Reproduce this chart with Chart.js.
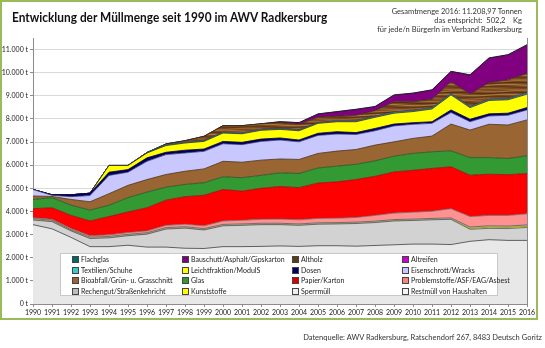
<!DOCTYPE html>
<html><head><meta charset="utf-8">
<script src="https://cdn.jsdelivr.net/npm/chart.js@4.4.1/dist/chart.umd.min.js"></script>
<style>
html,body{margin:0;padding:0;background:#fff;width:545px;height:348px;overflow:hidden;font-family:Lato,'Open Sans',sans-serif;}
#frame{position:absolute;left:0;top:0;width:534px;height:316px;border:2px solid #9bbb59;}
#c{position:absolute;left:0;top:0;}
#title{position:absolute;left:12px;top:9px;font-size:13.5px;font-weight:bold;color:#111;white-space:nowrap;transform:scaleX(0.88);transform-origin:0 0;}
#info{position:absolute;right:23px;top:7px;font-size:7.5px;line-height:9px;text-align:right;color:#333;white-space:pre;}
#source{position:absolute;right:3px;top:333px;font-size:7.5px;color:#333;white-space:nowrap;}
#legend{position:absolute;left:60px;top:253px;width:436px;height:41px;background:#fff;border:1px solid #c8c8c8;}
.item{position:absolute;font-size:7px;line-height:8px;color:#222;white-space:nowrap;}
.sw{display:inline-block;width:5px;height:5px;border:1px solid #444;margin-right:2px;vertical-align:-1px;}
</style></head>
<body>
<div id="frame"></div>
<canvas id="c" width="545" height="348"></canvas>
<div id="title">Entwicklung der Müllmenge seit 1990 im AWV Radkersburg</div>
<div id="info">Gesamtmenge 2016: 11.208,97 Tonnen
das entspricht:  502,2    Kg
für jede/n BürgerIn im Verband Radkersburg</div>
<div id="legend"></div>
<div id="source">Datenquelle: AWV Radkersburg, Ratschendorf 267, 8483 Deutsch Goritz</div>
<script>
const years = ["1990","1991","1992","1993","1994","1995","1996","1997","1998","1999","2000","2001","2002","2003","2004","2005","2006","2007","2008","2009","2010","2011","2012","2013","2014","2015","2016"];
const yTicks = [0,1000,2000,3000,4000,5000,6000,7000,8000,9000,10000,11000];

const restmuell     = [3430,3250,2880,2480,2480,2540,2460,2460,2410,2400,2480,2480,2490,2510,2490,2520,2520,2500,2530,2560,2590,2590,2570,2710,2780,2750,2750];
const sperrmuell    = [200,310,280,350,380,410,560,780,870,800,900,920,940,920,910,930,940,980,990,1030,1020,1050,1090,520,490,510,560];
const kunststoffe   = [0,0,0,0,0,0,0,0,0,0,0,0,0,0,0,0,0,0,0,0,0,0,0,40,50,50,50];
const rechengut     = [60,60,50,60,60,60,60,60,60,60,60,60,60,60,60,60,60,60,60,60,60,60,60,60,60,60,60];
const problemstoffe = [40,40,50,60,70,80,80,100,110,120,150,160,170,180,180,190,190,200,250,280,300,310,400,450,450,460,480];
const papier        = [390,500,570,640,790,890,1000,1090,1190,1320,1360,1260,1340,1410,1390,1530,1570,1640,1690,1780,1810,1850,1810,1790,1780,1760,1740];
const glas          = [400,440,440,470,490,620,680,560,530,540,550,580,560,590,610,650,680,660,670,680,730,720,690,760,720,700,770];
const bioabfall     = [150,50,250,360,500,530,540,550,570,600,670,670,660,600,610,630,650,640,680,620,650,680,1160,1190,1440,1450,1550];
const eisenschrott  = [280,50,120,270,790,570,790,860,790,760,760,760,810,820,760,780,740,650,620,690,610,550,500,360,360,420,430];
const dosen         = [0,20,80,100,140,110,150,100,120,100,100,100,100,90,80,90,100,80,100,80,70,70,110,110,90,90,100];
const leichtfraktion= [0,0,0,0,290,180,210,290,310,330,360,370,380,370,400,430,430,470,480,470,480,550,650,500,580,580,580];
const textilien     = [0,0,0,0,0,0,20,30,30,30,30,30,30,30,30,30,30,30,40,40,40,40,40,40,40,40,50];
const altreifen     = [0,0,0,0,0,0,0,0,10,10,10,10,10,10,10,10,10,10,10,10,10,10,10,10,10,10,10];
const altholz       = [0,0,0,0,0,0,0,40,60,180,280,310,240,260,240,220,200,240,240,440,380,370,520,540,720,810,840];
const bauschutt     = [0,0,0,0,0,0,0,0,0,0,0,0,0,30,70,140,190,250,170,290,360,400,440,820,1060,1080,1230];
const flachglas     = [0,0,0,0,0,0,0,0,0,0,0,0,0,0,0,10,10,10,10,10,10,10,10,10,10,10,10];

function woodPattern(){
  const p = document.createElement('canvas'); p.width = 60; p.height = 10;
  const g = p.getContext('2d');
  g.fillStyle = '#7a4a20'; g.fillRect(0,0,60,10);
  const rows = [[1,'#a8733a'],[3,'#4e2c10'],[5,'#b5824a'],[7,'#5a3414'],[9,'#9a6632']];
  rows.forEach(([y,c],k)=>{
    g.strokeStyle = c; g.lineWidth = 0.9; g.beginPath();
    for(let x=0;x<=60;x+=2){ const yy = y + 0.7*Math.sin((x/60)*Math.PI*2 + k); x===0?g.moveTo(x,yy):g.lineTo(x,yy); }
    g.stroke();
  });
  return document.getElementById('c').getContext('2d').createPattern(p,'repeat');
}

const series = [
  {label:'Restmüll von Haushalten', data:restmuell, color:'#e8e8e8', border:'#3c3c3c', sw:'#f4f4f4'},
  {label:'Sperrmüll', data:sperrmuell, color:'#d2d2d2', border:'#555', sw:'#eeeeee'},
  {label:'Kunststoffe', data:kunststoffe, color:'#ffff00', border:'#8c8c00', sw:'#ffff00'},
  {label:'Rechengut/Straßenkehricht', data:rechengut, color:'#bdbdbd', border:'#555', sw:'#bdbdbd'},
  {label:'Problemstoffe/ASF/EAG/Asbest', data:problemstoffe, color:'#ff9191', border:'#666', sw:'#ff8080'},
  {label:'Papier/Karton', data:papier, color:'#ff0000', border:'#8a1010', sw:'#dd0000'},
  {label:'Glas', data:glas, color:'#339933', border:'#2a4a2a', sw:'#339933'},
  {label:'Bioabfall/Grün- u. Grasschnitt', data:bioabfall, color:'#996633', border:'#4a3018', sw:'#996633'},
  {label:'Eisenschrott/Wracks', data:eisenschrott, color:'#c8c8ff', border:'#333366', sw:'#c8c8ff'},
  {label:'Dosen', data:dosen, color:'#000066', border:'#000044', sw:'#000066'},
  {label:'Leichtfraktion/ModulS', data:leichtfraktion, color:'#ffff00', border:'#222', sw:'#ffff00'},
  {label:'Textilien/Schuhe', data:textilien, color:'#33cccc', border:'#1a6666', sw:'#33cccc'},
  {label:'Altreifen', data:altreifen, color:'#cc00cc', border:'#660066', sw:'#cc00cc'},
  {label:'Altholz', data:altholz, color:null, border:'#3a2410', sw:'#5c3a1a'},
  {label:'Bauschutt/Asphalt/Gipskarton', data:bauschutt, color:'#800080', border:'#2a0a2a', sw:'#800080'},
  {label:'Flachglas', data:flachglas, color:'#006666', border:'#003333', sw:'#006666'}
];

const wood = woodPattern();
const datasets = series.map((s,i)=>({
  label:s.label, data:s.data,
  backgroundColor: s.color || wood,
  borderColor: s.border, borderWidth: 0.8,
  fill: i===0 ? 'origin' : '-1',
  pointRadius:0, pointHoverRadius:0, tension:0
}));

const leg = document.getElementById('legend');
series.slice().reverse().forEach((s,k)=>{
  const col = k%4, row = Math.floor(k/4);
  const d = document.createElement('div'); d.className='item';
  d.style.left = (11 + col*110) + 'px';
  d.style.top = (1 + row*10.6) + 'px';
  d.innerHTML = '<span class="sw" style="background:'+s.sw+'"></span>' + s.label;
  leg.appendChild(d);
});

const rightBorder = {
  id:'rightBorder',
  afterDraw(chart){
    const a = chart.chartArea, ctx = chart.ctx;
    ctx.save(); ctx.strokeStyle='#8c8c8c'; ctx.lineWidth=1;
    ctx.beginPath(); ctx.moveTo(Math.round(a.right)+0.5, a.top); ctx.lineTo(Math.round(a.right)+0.5, a.bottom); ctx.stroke();
    ctx.restore();
  }
};

new Chart(document.getElementById('c'), {
  type:'line',
  data:{labels:years, datasets},
  plugins:[rightBorder],
  options:{
    responsive:false, animation:false, events:[],
    layout:{padding:{left:0,right:18,top:38,bottom:28}},
    plugins:{legend:{display:false}, tooltip:{enabled:false}},
    scales:{
      x:{
        offset:false,
        grid:{drawOnChartArea:false, drawTicks:true, tickLength:3, tickColor:'#8c8c8c'},
        border:{color:'#8c8c8c'},
        ticks:{font:{family:'Lato', size:7}, color:'#222', maxRotation:0, autoSkip:false, padding:2},
        afterFit(s){ s.height = 16; }
      },
      y:{
        stacked:true, min:0, max:11500,
        afterBuildTicks(s){ s.ticks = yTicks.map(v=>({value:v})); },
        ticks:{autoSkip:false, font:{family:'Lato', size:7}, color:'#222', padding:2,
          callback:v=>v.toLocaleString('de-DE')+' t'},
        grid:{color:'#d9d9d9', tickLength:3, tickColor:'#8c8c8c'},
        border:{color:'#8c8c8c'},
        afterFit(s){ s.width = 33; }
      }
    }
  }
});
</script>
</body></html>
